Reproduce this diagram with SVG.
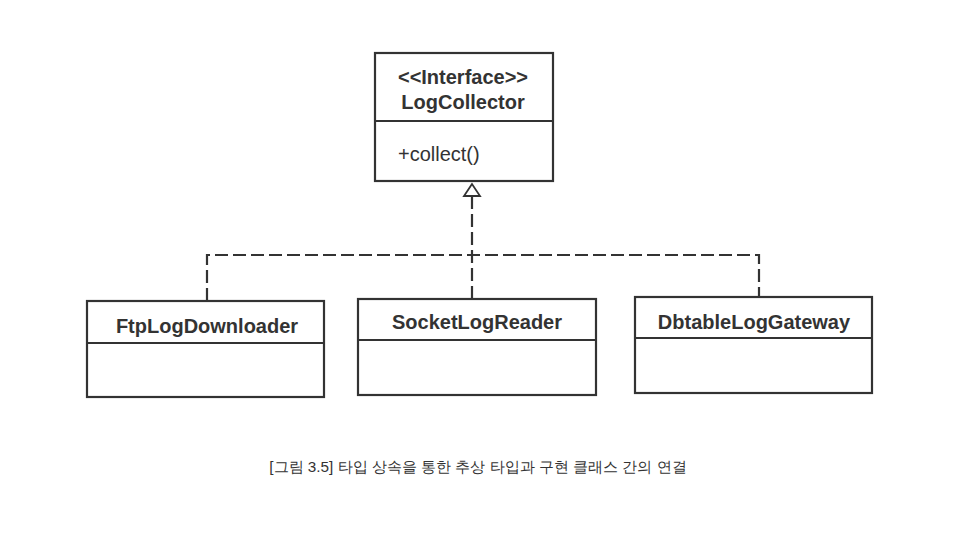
<svg xmlns="http://www.w3.org/2000/svg" width="960" height="553" viewBox="0 0 960 553">
<style>
.box{fill:#fff;stroke:#333;stroke-width:2.2}
.div{stroke:#333;stroke-width:2}
.t{font-family:"Liberation Sans",Arial,sans-serif;fill:#333}
.b{font-weight:bold;font-size:20px;text-anchor:middle}
.dash{fill:none;stroke:#333;stroke-width:2.2;stroke-dasharray:13 5}
</style>
<rect width="960" height="553" fill="#fff"/>
<g id="connectors">
<path class="dash" d="M472 196 V298"/>
<path class="dash" d="M207 301 V255 H759 V297"/>
<polygon points="472,184 464,196 480,196" fill="#fff" stroke="#333" stroke-width="1.8"/>
</g>
<g id="LogCollector">
<rect class="box" x="375" y="53" width="178" height="128"/>
<line class="div" x1="375" y1="121" x2="553" y2="121"/>
<text class="t b" x="463" y="84" font-size="19">&lt;&lt;Interface&gt;&gt;</text>
<text class="t b" x="463" y="109">LogCollector</text>
<text class="t" x="398" y="161" font-size="20">+collect()</text>
</g>
<g id="FtpLogDownloader">
<rect class="box" x="87" y="301" width="237" height="96"/>
<line class="div" x1="87" y1="343" x2="324" y2="343"/>
<text class="t b" x="207" y="333">FtpLogDownloader</text>
</g>
<g id="SocketLogReader">
<rect class="box" x="358" y="299" width="238" height="96"/>
<line class="div" x1="358" y1="340" x2="596" y2="340"/>
<text class="t b" x="477" y="329">SocketLogReader</text>
</g>
<g id="DbtableLogGateway">
<rect class="box" x="635" y="297" width="237" height="96"/>
<line class="div" x1="635" y1="338" x2="872" y2="338"/>
<text class="t b" x="754" y="329">DbtableLogGateway</text>
</g>
<text class="t" x="478" y="472" font-size="15.3" text-anchor="middle" font-family="'Liberation Sans','Noto Sans CJK KR',sans-serif">[그림 3.5] 타입 상속을 통한 추상 타입과 구현 클래스 간의 연결</text>
</svg>
